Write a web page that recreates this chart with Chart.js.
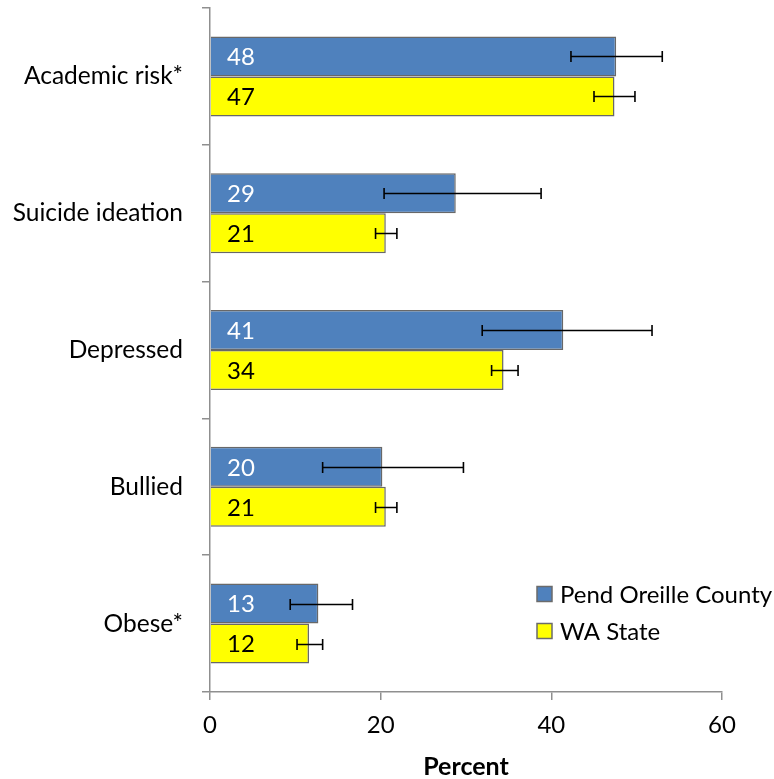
<!DOCTYPE html>
<html>
<head>
<meta charset="utf-8">
<script src="https://cdn.jsdelivr.net/npm/chart.js@4/dist/chart.umd.min.js"></script>
<style>
html,body{margin:0;padding:0;background:#fff;}
#wrap{width:774px;height:779px;}
</style>
</head>
<body>
<div id="wrap"><canvas id="c" width="774" height="779"></canvas></div>
<script>
const categories = ['Academic risk*', 'Suicide ideation', 'Depressed', 'Bullied', 'Obese*'];
const seriesNames = ['Pend Oreille County', 'WA State'];
const countyValues = [47.6, 28.8, 41.4, 20.2, 12.7];
const stateValues = [47.4, 20.6, 34.4, 20.6, 11.6];
const countyLow = [42.3, 20.4, 31.9, 13.2, 9.4];
const countyHigh = [53.0, 38.8, 51.8, 29.7, 16.7];
const stateLow = [45.0, 19.4, 33.0, 19.4, 10.2];
const stateHigh = [49.8, 21.9, 36.1, 21.9, 13.2];
const xTicks = [0, 20, 40, 60];

const FONT = 'Lato, "Open Sans", sans-serif';
const AXIS_COLOR = '#8f8f8f';

const errorBars = [
  {low: countyLow, high: countyHigh},
  {low: stateLow, high: stateHigh}
];
const labelColors = ['#ffffff', '#000000'];

const overlayPlugin = {
  id: 'overlay',
  afterDatasetsDraw(chart) {
    const ctx = chart.ctx;
    const xs = chart.scales.x;
    ctx.save();
    chart.data.datasets.forEach((ds, di) => {
      const meta = chart.getDatasetMeta(di);
      meta.data.forEach((bar, i) => {
        ctx.font = '24px ' + FONT;
        ctx.fillStyle = labelColors[di];
        ctx.textAlign = 'left';
        ctx.textBaseline = 'middle';
        ctx.fillText(String(Math.round(ds.data[i])), xs.getPixelForValue(0) + 17, bar.y + 1);
        const x1 = xs.getPixelForValue(errorBars[di].low[i]);
        const x2 = xs.getPixelForValue(errorBars[di].high[i]);
        const y = Math.round(bar.y) + 0.5;
        ctx.strokeStyle = '#000';
        ctx.lineWidth = 1.6;
        ctx.beginPath();
        ctx.moveTo(x1, y); ctx.lineTo(x2, y);
        ctx.moveTo(x1, y - 5.5); ctx.lineTo(x1, y + 5.5);
        ctx.moveTo(x2, y - 5.5); ctx.lineTo(x2, y + 5.5);
        ctx.stroke();
      });
    });
    ctx.restore();
  },
  afterDraw(chart) {
    const ctx = chart.ctx;
    ctx.save();
    const lx = 537, ly = [594, 631];
    chart.data.datasets.forEach((ds, di) => {
      ctx.fillStyle = ds.backgroundColor;
      ctx.fillRect(lx, ly[di] - 7.5, 15, 15);
      ctx.strokeStyle = '#6b6b6b';
      ctx.lineWidth = 1.5;
      ctx.strokeRect(lx, ly[di] - 7.5, 15, 15);
      ctx.fillStyle = '#000';
      ctx.font = '24px ' + FONT;
      ctx.textAlign = 'left';
      ctx.textBaseline = 'middle';
      ctx.fillText(ds.label, lx + 23, ly[di] + 1);
    });
    ctx.restore();
  }
};

new Chart(document.getElementById('c'), {
  type: 'bar',
  data: {
    labels: categories,
    datasets: [
      {label: seriesNames[0], data: countyValues, backgroundColor: '#4F81BD', borderColor: '#686868', borderWidth: 1.5,
       categoryPercentage: 0.585, barPercentage: 1.0},
      {label: seriesNames[1], data: stateValues, backgroundColor: '#FFFF00', borderColor: '#686868', borderWidth: 1.5,
       categoryPercentage: 0.585, barPercentage: 1.0}
    ]
  },
  options: {
    indexAxis: 'y',
    responsive: false,
    animation: false,
    devicePixelRatio: 1,
    layout: {padding: {top: 8, right: 52, bottom: 0, left: 0}},
    plugins: {legend: {display: false}, tooltip: {enabled: false}},
    scales: {
      x: {
        min: 0, max: 60,
        afterBuildTicks(scale) { scale.ticks = xTicks.map(v => ({value: v})); },
        afterFit(scale) { scale.height = 87; scale.paddingLeft = 0; scale.paddingRight = 0; },
        grid: {drawOnChartArea: false, drawTicks: true, tickLength: 8, color: AXIS_COLOR, lineWidth: 1.5},
        border: {display: true, color: AXIS_COLOR, width: 1.5},
        ticks: {color: '#000', font: {family: FONT, size: 24}, padding: 11, maxRotation: 0},
        title: {display: true, text: 'Percent', color: '#000', font: {family: FONT, size: 25, weight: 'bold', lineHeight: 1.0}, padding: {top: 0, bottom: 0}}
      },
      y: {
        afterFit(scale) { scale.width = 210; scale.paddingTop = 0; scale.paddingBottom = 0; },
        grid: {offset: true, drawOnChartArea: false, drawTicks: true, tickLength: 8, color: AXIS_COLOR, lineWidth: 1.5},
        border: {display: true, color: AXIS_COLOR, width: 1.5},
        ticks: {color: '#000', font: {family: FONT, size: 24.5}, padding: 19}
      }
    }
  },
  plugins: [overlayPlugin]
});
</script>
</body>
</html>
